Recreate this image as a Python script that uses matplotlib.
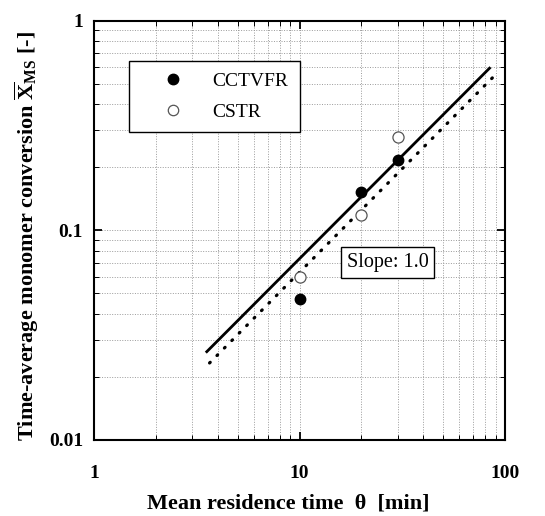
import matplotlib
matplotlib.use("Agg")
import matplotlib.pyplot as plt
from matplotlib.lines import Line2D
from matplotlib.ticker import LogLocator, NullFormatter, FixedLocator, FixedFormatter

# Experimental points: mean residence time [min] vs. time-average conversion [-]
theta_cctvfr = [10, 20, 30]
x_cctvfr = [0.047, 0.152, 0.217]
theta_cstr = [10, 20, 30]
x_cstr = [0.060, 0.118, 0.278]

# Slope-1.0 correlation lines (end points)
fit_theta_solid = [3.5, 85.0]
fit_x_solid = [0.0261, 0.600]
fit_theta_dot = [3.65, 87.0]
fit_x_dot = [0.0233, 0.535]

x_ticks = [1, 10, 100]
x_tick_labels = ["1", "10", "100"]
y_ticks = [0.01, 0.1, 1]
y_tick_labels = ["0.01", "0.1", "1"]

plt.rcParams["font.family"] = ["Liberation Serif", "DejaVu Serif"]
plt.rcParams["mathtext.fontset"] = "custom"
plt.rcParams["mathtext.rm"] = "Liberation Serif:bold"
plt.rcParams["mathtext.bf"] = "Liberation Serif:bold"
plt.rcParams["mathtext.it"] = "Liberation Serif:bold"

fig = plt.figure(figsize=(5.45, 5.16), dpi=100)
ax = fig.add_axes([94 / 545, 1 - 440 / 516, 411 / 545, 419.3 / 516])

ax.set_xscale("log")
ax.set_yscale("log")
ax.set_xlim(1, 100)
ax.set_ylim(0.01, 1)

# Grid at every decade subdivision
ax.grid(True, which="both", color="#9a9a9a", linestyle=(0, (1, 1.6)), linewidth=0.7)
ax.set_axisbelow(True)

# Correlation lines
ax.plot(fit_theta_solid, fit_x_solid, color="black", linewidth=2.0, solid_capstyle="butt")
ax.plot(fit_theta_dot, fit_x_dot, color="black", linewidth=2.3,
        linestyle=(0, (0.3, 3.0)), dash_capstyle="round")

# Measured data
ax.plot(theta_cctvfr, x_cctvfr, "o", markersize=7.5, markerfacecolor="black",
        markeredgecolor="black", zorder=5)
ax.plot(theta_cstr, x_cstr, "o", markersize=8, markerfacecolor="white",
        markeredgecolor="#555555", markeredgewidth=0.9, zorder=5)

# Ticks: inward, on all four sides
ax.xaxis.set_major_locator(FixedLocator(x_ticks))
ax.xaxis.set_major_formatter(FixedFormatter(x_tick_labels))
ax.yaxis.set_major_locator(FixedLocator(y_ticks))
ax.yaxis.set_major_formatter(FixedFormatter(y_tick_labels))
ax.xaxis.set_minor_locator(LogLocator(base=10, subs=range(2, 10)))
ax.yaxis.set_minor_locator(LogLocator(base=10, subs=range(2, 10)))
ax.xaxis.set_minor_formatter(NullFormatter())
ax.yaxis.set_minor_formatter(NullFormatter())
ax.tick_params(which="both", direction="in", top=True, right=True, color="black")
ax.tick_params(which="major", length=6, width=1.3)
ax.tick_params(which="minor", length=3.5, width=0.7)
ax.tick_params(axis="x", which="major", pad=18, labelsize=14)
ax.tick_params(axis="y", which="major", pad=8, labelsize=14)
for lab in ax.get_xticklabels() + ax.get_yticklabels():
    lab.set_fontweight("bold")

for sp in ax.spines.values():
    sp.set_linewidth(1.5)

ax.set_xlabel("Mean residence time  θ  [min]", fontsize=16, fontweight="bold")
ax.set_ylabel(r"Time-average monomer conversion $\overline{\mathbf{X}}_{\mathbf{MS}}$ [-]",
              fontsize=16, fontweight="bold")
ax.xaxis.set_label_coords(0.473, -0.127)
ax.yaxis.set_label_coords(-0.13, 0.4865)

# Legend
handles = [
    Line2D([], [], linestyle="none", marker="o", markersize=7.5,
           markerfacecolor="black", markeredgecolor="black"),
    Line2D([], [], linestyle="none", marker="o", markersize=7.5,
           markerfacecolor="white", markeredgecolor="#555555", markeredgewidth=0.9),
]
leg = ax.legend(handles, ["CCTVFR", "CSTR"], loc="upper left",
                bbox_to_anchor=(129 / 545, 1 - 61 / 516), bbox_transform=fig.transFigure,
                borderaxespad=0, borderpad=0.6, handlelength=3.3, handletextpad=0.4,
                labelspacing=0.65, fontsize=14, fancybox=False, framealpha=1,
                edgecolor="black")
leg.get_frame().set_linewidth(1.0)

# Slope annotation
ax.text(0.714, 0.4233, "Slope: 1.0", transform=ax.transAxes, ha="center", va="center",
        fontsize=14.5, zorder=6,
        bbox=dict(boxstyle="square,pad=0.3", facecolor="white", edgecolor="black",
                  linewidth=1.0))

fig.savefig("out.png", dpi=100)
